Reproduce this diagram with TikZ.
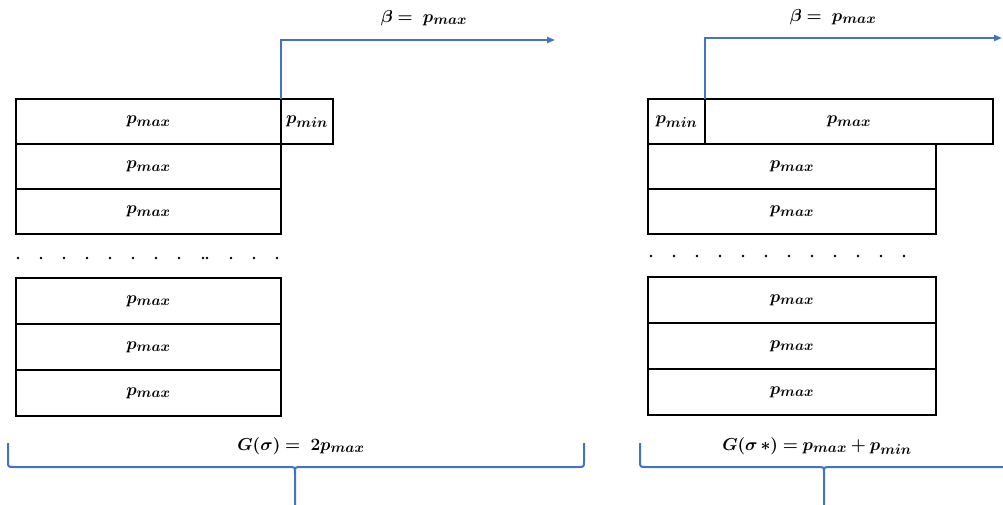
\documentclass[tikz,border=0pt]{standalone}
\usepackage{amsmath,bm}
\usetikzlibrary{arrows.meta}
\DeclareMathSizes{18}{18}{13.5}{10}
\definecolor{obl}{RGB}{68,114,196}
\begin{document}
\begin{tikzpicture}[x=1pt,y=-1pt,
  cell/.style={draw=black,line width=2.5pt,inner sep=0pt,outer sep=0pt,anchor=north west,
    minimum height=#1,font=\fontsize{18}{22}\selectfont},
  cell/.default=45pt,
  blue line/.style={draw=obl,line width=2pt},
  lbl/.style={font=\fontsize{18}{22}\selectfont,inner sep=0pt}]
\clip (0,0) rectangle (1003,504);
\fill[white] (0,0) rectangle (1003,504);
% left stack
\node[cell,minimum width=265pt] (L1) at (16,99) {$\bm{p_{max}}$};
\node[cell,minimum width=52pt] (Lmin) at (281,99) {$\bm{p_{min}}$};
\node[cell,minimum width=265pt] (L2) at (16,144) {$\bm{p_{max}}$};
\node[cell,minimum width=265pt] (L3) at (16,189) {$\bm{p_{max}}$};
\node[cell=46pt,minimum width=265pt] (L4) at (16,278) {$\bm{p_{max}}$};
\node[cell=46pt,minimum width=265pt] (L5) at (16,324) {$\bm{p_{max}}$};
\node[cell=46pt,minimum width=265pt] (L6) at (16,370) {$\bm{p_{max}}$};
\foreach \x in {18,41,64,87,110,133,156,179,203,207,231,254,277}
  \fill (\x,258) circle (1.3);
% left arrow
\coordinate (La) at (555,40);
\draw[blue line,-{Triangle[length=8pt,width=6pt]}] (L1.north east) |- (La);
\node[lbl] (Lb) at (424,18) {$\bm{\beta =\ p_{max}}$};
% right stack
\node[cell,minimum width=57pt] (Rmin) at (648,99) {$\bm{p_{min}}$};
\node[cell,minimum width=288pt] (R1) at (705,99) {$\bm{p_{max}}$};
\node[cell,minimum width=288pt] (R2) at (648,144) {$\bm{p_{max}}$};
\node[cell,minimum width=288pt] (R3) at (648,189) {$\bm{p_{max}}$};
\node[cell=46pt,minimum width=288pt] (R4) at (648,277) {$\bm{p_{max}}$};
\node[cell=46pt,minimum width=288pt] (R5) at (648,323) {$\bm{p_{max}}$};
\node[cell=46pt,minimum width=288pt] (R6) at (648,369) {$\bm{p_{max}}$};
\foreach \i in {0,...,11}
  \fill ({651+23*\i},256) circle (1.3);
\coordinate (Ra) at (1002,38);
\draw[blue line,-{Triangle[length=8pt,width=6pt]}] (R1.north west) |- (Ra);
\node[lbl] (Rb) at (833,17) {$\bm{\beta =\ p_{max}}$};
% braces
\draw[blue line] (8,443) -- (8,461) .. controls (8,467) .. (14,467) -- (289,467)
  .. controls (295,467) .. (295,473) -- (295,510);
\draw[blue line] (295,473) .. controls (295,467) .. (301,467) -- (578,467)
  .. controls (584,467) .. (584,461) -- (584,443);
\node[lbl] (Lg) at (301,446) {$\bm{G(\sigma) =\ 2p_{max}}$};
\draw[blue line] (640,443) -- (640,461) .. controls (640,467) .. (646,467) -- (818,467)
  .. controls (824,467) .. (824,473) -- (824,510);
\draw[blue line] (824,473) .. controls (824,467) .. (830,467) -- (1010,467);
\node[lbl] (Rg) at (817,446) {$\bm{G(\sigma\, *) = p_{max} + p_{min}}$};
\end{tikzpicture}
\end{document}
